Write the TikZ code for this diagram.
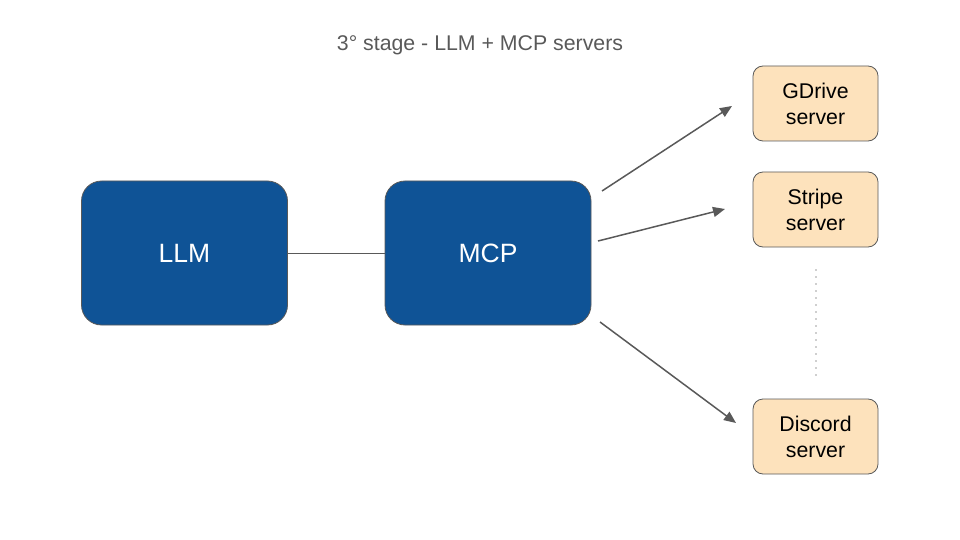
\documentclass[tikz,border=0pt]{standalone}
\usepackage{fontspec}
\setmainfont{Liberation Sans}
\usetikzlibrary{arrows.meta}
\definecolor{bluebox}{HTML}{0F5396}
\definecolor{orangebox}{HTML}{FDE2BC}
\definecolor{edgegray}{HTML}{595959}
\definecolor{dotgray}{HTML}{9E9E9E}
\tikzset{
  mainbox/.style={draw=edgegray, line width=0.8pt, fill=bluebox, rounded corners=20pt,
    minimum width=206pt, minimum height=144pt, text=white, inner sep=0pt,
    font=\fontsize{26.5}{30}\selectfont},
  serverbox/.style={draw=edgegray, line width=0.8pt, fill=orangebox, rounded corners=10pt,
    minimum width=125pt, minimum height=75pt, text=black, inner sep=0pt, align=center,
    font=\fontsize{21.3}{26}\selectfont},
  arr/.style={draw=edgegray, line width=1.5pt, -{Triangle[length=12pt,width=10pt]}},
  link/.style={draw=edgegray, line width=0.8pt},
  dots/.style={draw=dotgray, line width=1.6pt, line cap=round, dash pattern=on 0pt off 7pt}
}
\begin{document}
\begin{tikzpicture}[x=1pt,y=-1pt]
\useasboundingbox (0,0) rectangle (960,540);
\node[text=edgegray, font=\fontsize{21.3}{26}\selectfont] (title) at (480,45.5) {3° stage - LLM + MCP servers};
\node[mainbox] (llm) at (184.5,253) {LLM};
\node[mainbox] (mcp) at (488,253) {MCP};
\node[serverbox] (gdrive) at (815.5,103.5) {GDrive\\server};
\node[serverbox] (stripe) at (815.5,209.5) {Stripe\\server};
\node[serverbox] (discord) at (815.5,436.5) {Discord\\server};
\draw[link] (llm) -- (mcp);
\coordinate (a1s) at (602,191);
\coordinate (a1e) at (732,106);
\coordinate (a2s) at (598,241);
\coordinate (a2e) at (725,209);
\coordinate (a3s) at (600,322);
\coordinate (a3e) at (736,423);
\draw[arr] (a1s) -- (a1e);
\draw[arr] (a2s) -- (a2e);
\draw[arr] (a3s) -- (a3e);
\coordinate (d1) at (816,270);
\coordinate (d2) at (816,376);
\draw[dots] (d1) -- (d2);
\end{tikzpicture}
\end{document}
